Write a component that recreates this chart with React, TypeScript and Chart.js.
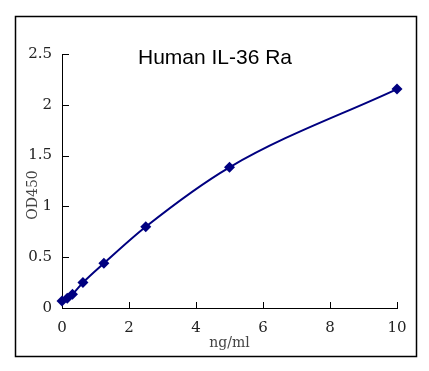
import React, { useEffect, useRef } from "react";
import { Chart, registerables } from "chart.js";

Chart.register(...registerables);

const concentrations = [0, 0.156, 0.3125, 0.625, 1.25, 2.5, 5, 10];
const od450 = [0.07, 0.095, 0.135, 0.25, 0.44, 0.8, 1.385, 2.155];
const chartTitle = "Human IL-36 Ra";
const xTitle = "ng/ml";
const yTitle = "OD450";

const serif = "'DejaVu Serif', 'Liberation Serif', serif";
const sans = "'Liberation Sans', Arial, sans-serif";

const decorPlugin = {
  id: "decor",
  beforeDraw(chart: any) {
    const { ctx, width, height } = chart;
    ctx.save();
    ctx.fillStyle = "#fff";
    ctx.fillRect(0, 0, width, height);
    ctx.restore();
  },
  beforeDatasetsDraw(chart: any) {
    const { ctx, chartArea, scales } = chart;
    const x = scales.x;
    const y = scales.y;
    ctx.save();
    ctx.strokeStyle = "#000";
    ctx.lineWidth = 1;
    ctx.beginPath();
    x.ticks.forEach((t: any) => {
      const px = Math.round(x.getPixelForValue(t.value)) + 0.5;
      ctx.moveTo(px, chartArea.bottom);
      ctx.lineTo(px, chartArea.bottom - 6);
    });
    y.ticks.forEach((t: any) => {
      const py = Math.round(y.getPixelForValue(t.value)) + 0.5;
      ctx.moveTo(chartArea.left, py);
      ctx.lineTo(chartArea.left + 7, py);
    });
    ctx.stroke();
    ctx.restore();
  },
  afterDraw(chart: any) {
    const { ctx, chartArea } = chart;
    ctx.save();
    // outer frame
    ctx.strokeStyle = "#000";
    ctx.lineWidth = 1.5;
    ctx.strokeRect(7.5, 8.5, 401, 340);
    // main title
    ctx.fillStyle = "#000";
    ctx.font = `21px ${sans}`;
    ctx.textAlign = "center";
    ctx.textBaseline = "middle";
    ctx.fillText(chartTitle, chartArea.left + 153, chartArea.top + 4);
    // x title
    ctx.fillStyle = "#444";
    ctx.font = `14px ${serif}`;
    ctx.fillText(xTitle, (chartArea.left + chartArea.right) / 2, chartArea.bottom + 35);
    // y title
    ctx.translate(25, (chartArea.top + chartArea.bottom) / 2 + 14);
    ctx.rotate(-Math.PI / 2);
    ctx.fillText(yTitle, 0, 0);
    ctx.restore();
  },
};

const fmt = (v: any) => String(Number(v));

export default function App() {
  const ref = useRef<HTMLCanvasElement | null>(null);
  useEffect(() => {
    if (!ref.current) return;
    const chart = new Chart(ref.current, {
      type: "line",
      data: {
        datasets: [
          {
            data: concentrations.map((c, i) => ({ x: c, y: od450[i] })),
            borderColor: "#000080",
            backgroundColor: "#000080",
            borderWidth: 2,
            pointStyle: "rectRot",
            pointRadius: 5.5,
            pointBorderWidth: 0,
            cubicInterpolationMode: "monotone",
            clip: false,
          } as any,
        ],
      },
      options: {
        animation: false,
        responsive: true,
        maintainAspectRatio: false,
        layout: { padding: { left: 0, right: 24, top: 46, bottom: 0 } },
        plugins: { legend: { display: false }, tooltip: { enabled: false }, title: { display: false } },
        scales: {
          x: {
            type: "linear",
            min: 0,
            max: 10,
            ticks: { stepSize: 2, color: "#222", font: { family: serif, size: 15 }, padding: 11, maxRotation: 0, callback: fmt },
            grid: { display: false, drawTicks: false },
            border: { display: true, color: "#000", width: 1 },
            afterFit: (s: any) => {
              s.height = 55;
            },
          },
          y: {
            type: "linear",
            min: 0,
            max: 2.5,
            ticks: { stepSize: 0.5, color: "#222", font: { family: serif, size: 15 }, padding: 10, callback: fmt },
            grid: { display: false, drawTicks: false },
            border: { display: true, color: "#000", width: 1 },
            afterFit: (s: any) => {
              s.width = 54;
            },
          },
        },
      },
      plugins: [decorPlugin],
    });
    return () => chart.destroy();
  }, []);
  return (
    <div style={{ width: 413, height: 355, position: "relative" }}>
      <canvas ref={ref} />
    </div>
  );
}
